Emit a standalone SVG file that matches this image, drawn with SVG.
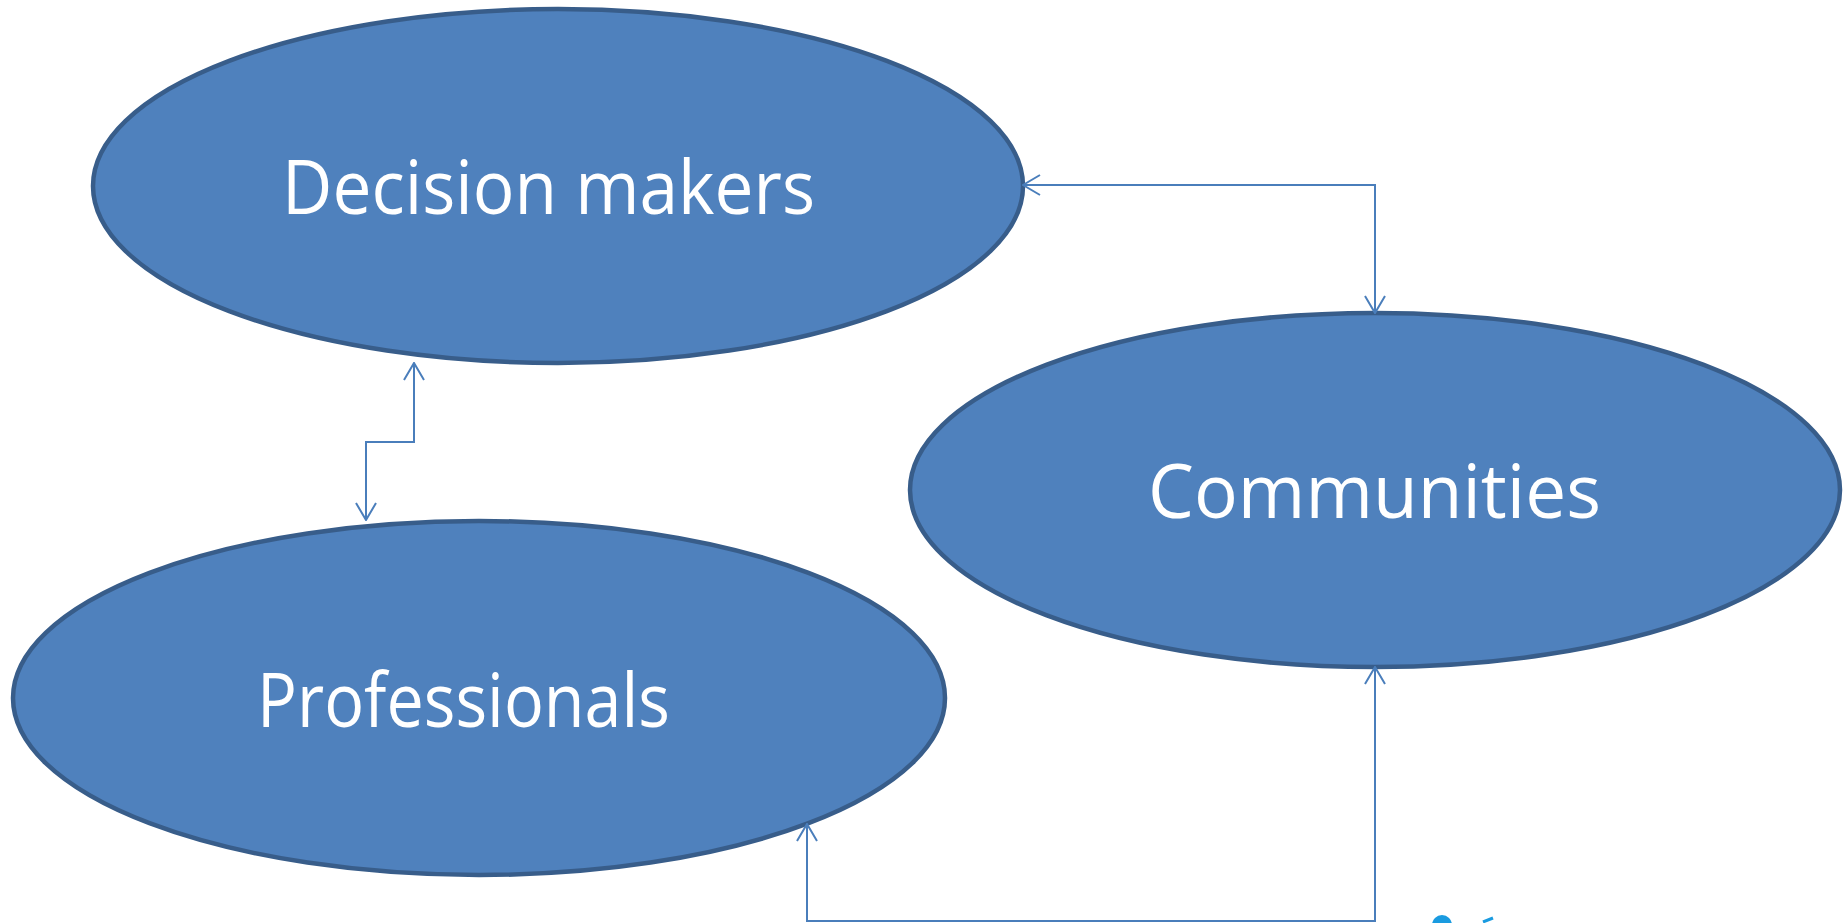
<svg xmlns="http://www.w3.org/2000/svg" width="1843" height="923" viewBox="0 0 1843 923">
  <style>
    .node ellipse { fill: #4f81bd; stroke: #385d8a; stroke-width: 4.5; }
    .node text { fill: #ffffff; font-family: "Open Sans", "Liberation Sans", sans-serif; font-size: 75px; }
    .link { fill: none; stroke: #4a7ebb; stroke-width: 2; marker-start: url(#openArrow); marker-end: url(#openArrow); }
  </style>
  <defs>
    <marker id="openArrow" viewBox="0 0 20 22" refX="19" refY="11" markerWidth="20" markerHeight="22" markerUnits="userSpaceOnUse" orient="auto-start-reverse">
      <path d="M2,1 L19,11 L2,21" fill="none" stroke="#4a7ebb" stroke-width="2"/>
    </marker>
  </defs>

  <rect width="1843" height="923" fill="#ffffff"/>

  <g id="node-decision-makers" class="node">
    <ellipse cx="558" cy="186" rx="465" ry="177"/>
    <text x="282" y="214" textLength="533" lengthAdjust="spacingAndGlyphs">Decision makers</text>
  </g>

  <g id="node-communities" class="node">
    <ellipse cx="1375" cy="490" rx="465" ry="177"/>
    <text x="1148" y="518" textLength="453" lengthAdjust="spacingAndGlyphs">Communities</text>
  </g>

  <g id="node-professionals" class="node">
    <ellipse cx="479" cy="698" rx="466" ry="177"/>
    <text x="257" y="727" textLength="413" lengthAdjust="spacingAndGlyphs">Professionals</text>
  </g>

  <g id="connectors">
    <path class="link" d="M1023,185 H1375 V313"/>
    <path class="link" d="M414,363 V442 H366 V520"/>
    <path class="link" d="M1375,667 V921 H807 V824"/>
  </g>

  <!-- small logo mark at the lower edge -->
  <g id="logo-mark">
    <circle cx="1442" cy="925" r="10" fill="#1a9be0"/>
    <path d="M1483,922 L1493,918" stroke="#1a9be0" stroke-width="3" fill="none"/>
  </g>
</svg>
